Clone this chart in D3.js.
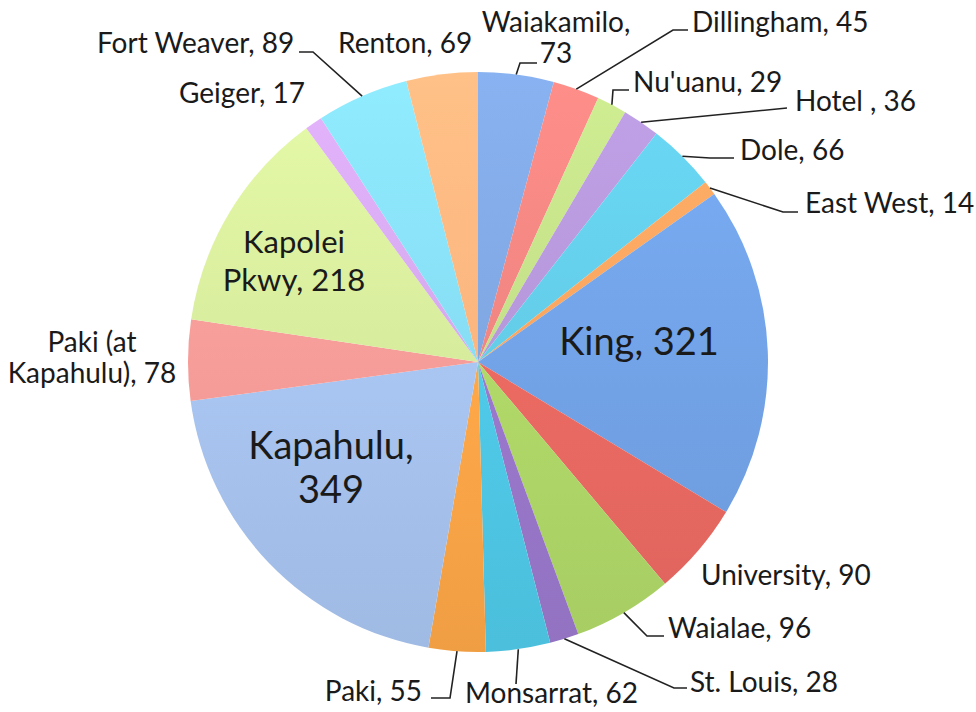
<!DOCTYPE html>
<html>
<head>
<meta charset="utf-8">
<script src="https://cdn.jsdelivr.net/npm/d3@7"></script>
<style>
  body { margin: 0; background: #fff; }
  svg { display: block; }
</style>
</head>
<body>
<script>
const width = 976
const height = 712

// data, clockwise from 12 o'clock
const names = ["Waiakamilo", "Dillingham", "Nu'uanu", "Hotel ", "Dole", "East West", "King", "University", "Waialae", "St. Louis", "Monsarrat", "Paki", "Kapahulu", "Paki (at Kapahulu)", "Kapolei Pkwy", "Geiger", "Fort Weaver", "Renton"]
const values = [73, 45, 29, 36, 66, 14, 321, 90, 96, 28, 62, 55, 349, 78, 218, 17, 89, 69]
const colors = ["#7fa6e0", "#ee8480", "#c2de88", "#b496d8", "#63cbe6", "#f9a460", "#72a2e6", "#ea6a62", "#b0d868", "#9a78cc", "#4fc9e8", "#fda748", "#a8c4f0", "#f59c98", "#d6ea9c", "#d4a8ec", "#86dcf3", "#fbb47e"]

// label layout: x, y = baseline of first line, anchor, size for big inside labels
const labelLayout = {
  "Waiakamilo": { lines: ["Waiakamilo,", "73"], x: 556, y: 32, anchor: "middle", gap: 31, leader: [[520, 63], [537, 63]] },
  "Dillingham": { x: 692, y: 32, leader: [[673, 30], [688, 30]] },
  "Nu'uanu": { x: 633, y: 92, leader: [[613, 90], [629, 90]] },
  "Hotel ": { x: 795, y: 111, leader: [[787, 108]] },
  "Dole": { x: 740, y: 160, leader: [[710, 158], [734, 158]] },
  "East West": { x: 805, y: 213, leader: [[783, 212], [798, 212]] },
  "King": { x: 639, y: 355, anchor: "middle", big: 38 },
  "University": { x: 701, y: 585 },
  "Waialae": { x: 668, y: 638, leader: [[647, 636], [664, 636]] },
  "St. Louis": { x: 690, y: 692, leader: [[674, 688], [687, 688]] },
  "Monsarrat": { x: 465, y: 703, leader: [[516, 684]] },
  "Paki": { x: 422, y: 701, anchor: "end", leader: [[450, 698], [431, 698]] },
  "Kapahulu": { lines: ["Kapahulu,", "349"], x: 331, y: 459, anchor: "middle", big: 38, gap: 44 },
  "Paki (at Kapahulu)": { lines: ["Paki (at", "Kapahulu), 78"], x: 92, y: 352, anchor: "middle", gap: 31 },
  "Kapolei Pkwy": { lines: ["Kapolei", "Pkwy, 218"], x: 294, y: 253, anchor: "middle", big: 31, gap: 38 },
  "Geiger": { x: 179, y: 103 },
  "Fort Weaver": { x: 97, y: 53, leader: [[313, 52], [299, 52]] },
  "Renton": { x: 338, y: 53 }
}

const cx = 478
const cy = 362
const radius = 290

const data = names.map((n, i) => ({ name: n, value: values[i], color: colors[i] }))

const pie = d3.pie().sort(null).value((d) => d.value)
const arc = d3.arc().innerRadius(0).outerRadius(radius)
const edge = d3.arc().innerRadius(radius).outerRadius(radius)

const svg = d3.select("body").append("svg").attr("width", width).attr("height", height).style("font-family", "Lato, 'Open Sans', sans-serif")

// shading: lighter at top, deeper at bottom
const defs = svg.append("defs")
data.forEach((d, i) => {
  const lg = defs
    .append("linearGradient")
    .attr("id", "grad" + i)
    .attr("gradientUnits", "userSpaceOnUse")
    .attr("x1", 0)
    .attr("y1", -radius)
    .attr("x2", 0)
    .attr("y2", radius)
  lg.append("stop").attr("offset", "0%").attr("stop-color", d3.color(d.color).brighter(0.2))
  lg.append("stop").attr("offset", "55%").attr("stop-color", d.color)
  lg.append("stop").attr("offset", "100%").attr("stop-color", d3.color(d.color).darker(0.15))
})

const g = svg.append("g").attr("transform", `translate(${cx},${cy})`)

const arcs = pie(data)

g.selectAll("path")
  .data(arcs)
  .join("path")
  .attr("d", arc)
  .attr("fill", (d, i) => `url(#grad${i})`)

// leader lines
const leaders = svg.append("g").attr("fill", "none").attr("stroke", "#222").attr("stroke-width", 1.6)
arcs.forEach((a) => {
  const lay = labelLayout[a.data.name]
  if (!lay.leader) return
  const [ex, ey] = edge.centroid(a)
  const pts = [[cx + ex, cy + ey], ...lay.leader]
  leaders.append("path").attr("d", d3.line()(pts))
})

// labels
const labels = svg.append("g").attr("fill", "#1a1a1a")
arcs.forEach((a) => {
  const lay = labelLayout[a.data.name]
  const lines = lay.lines || [`${a.data.name}, ${a.data.value}`]
  const size = lay.big || 28
  const t = labels
    .append("text")
    .attr("text-anchor", lay.anchor || "start")
    .attr("font-size", size)
  lines.forEach((l, k) => {
    t.append("tspan")
      .attr("x", lay.x)
      .attr("y", lay.y + k * (lay.gap || size * 1.2))
      .text(l)
  })
})
</script>
</body>
</html>
